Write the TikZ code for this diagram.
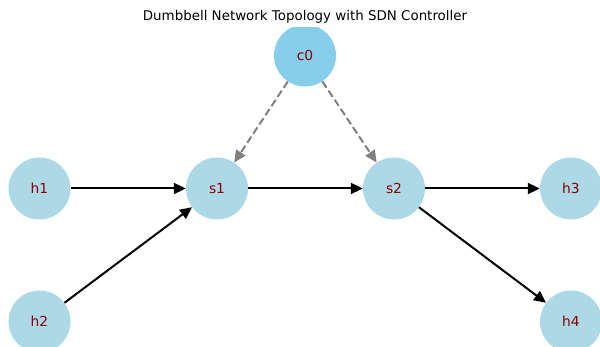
\documentclass[tikz,border=0pt]{standalone}
\usepackage{fontspec}
\setmainfont{DejaVu Sans}
\usetikzlibrary{arrows.meta}
\definecolor{nodeblue}{HTML}{ADD8E6}
\definecolor{ctrlblue}{HTML}{87CEEB}
\definecolor{lbl}{HTML}{8B0000}
\tikzset{
  netnode/.style={circle, fill=nodeblue, draw=none, minimum size=62pt, inner sep=0pt, text=lbl, font=\fontsize{13.8}{16}\selectfont},
  ctrlnode/.style={netnode, fill=ctrlblue},
  link/.style={line width=2pt, black, -{Triangle[length=12pt,width=11pt]}},
  ctrllink/.style={line width=2pt, gray, dash pattern=on 7.5pt off 3.5pt, -{Triangle[length=12pt,width=11pt]}}
}
\begin{document}
\begin{tikzpicture}[x=1pt,y=-1pt]
\useasboundingbox (0,0) rectangle (600,347);
\node[font=\fontsize{13.4}{16}\selectfont] (title) at (305,17) {Dumbbell Network Topology with SDN Controller};
\begin{scope}
\clip (0,28) rectangle (600,347);
\node[ctrlnode] (c0) at (305,55.5) {c0};
\node[netnode] (h1) at (39.5,188.5) {h1};
\node[netnode] (s1) at (217,188.5) {s1};
\node[netnode] (s2) at (394,188.5) {s2};
\node[netnode] (h3) at (571,188.5) {h3};
\node[netnode] (h2) at (39.5,321.5) {h2};
\node[netnode] (h4) at (571,321.5) {h4};
\end{scope}
\draw[link] (h1) -- (s1);
\draw[link] (h2) -- (s1);
\draw[link] (s1) -- (s2);
\draw[link] (s2) -- (h3);
\draw[link] (s2) -- (h4);
\draw[ctrllink] (c0) -- (s1);
\draw[ctrllink] (c0) -- (s2);
\end{tikzpicture}
\end{document}
